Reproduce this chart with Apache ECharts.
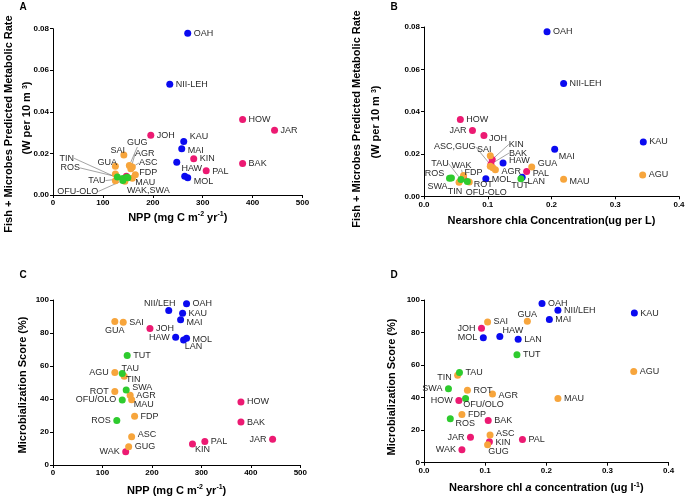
<!DOCTYPE html>
<html><head><meta charset="utf-8">
<script src="https://cdn.jsdelivr.net/npm/echarts@6/dist/echarts.min.js"></script>
<style>html,body{margin:0;padding:0;background:#fff}#c{width:689px;height:501px}</style>
</head><body><div id="c"></div>
<script>
// ---- data ----
const sites  = ['OAH','NII-LEH','KAU','MAI','HAW','MOL','LAN','JOH','HOW','JAR','BAK','KIN','PAL','WAK','GUA','SAI','AGR','ASC','GUG','FDP','MAU','AGU','ROT','TIN','TUT','TAU','SWA','OFU-OLO','ROS'];
const groups = ['b','b','b','b','b','b','b','p','p','p','p','p','p','p','o','o','o','o','o','o','o','o','o','o','g','g','g','g','g'];
const npp    = [270,234,262,258,248,270,264,196,380,444,380,282,307,147,125,142,156,159,153,165,159,125,125,144,150,140,148,140,129];
const chla   = [0.193,0.219,0.344,0.205,0.124,0.097,0.154,0.094,0.057,0.076,0.105,0.107,0.161,0.062,0.169,0.104,0.112,0.108,0.104,0.062,0.219,0.343,0.071,0.055,0.152,0.058,0.040,0.068,0.043];
const metab  = [0.0778,0.0533,0.0257,0.0222,0.0157,0.0083,0.0090,0.0287,0.0363,0.0311,0.0152,0.0174,0.0117,0.0090,0.0138,0.0192,0.0126,0.0135,0.0142,0.0098,0.0080,0.0101,0.0068,0.0066,0.0083,0.0079,0.0085,0.0070,0.0087];
const score  = [97.8,93.7,92.0,88.0,77.5,76.8,75.8,82.7,38.2,15.6,26.0,12.8,14.3,8.0,87.0,86.5,42.2,17.1,11.0,29.6,39.5,56.0,44.6,53.8,66.4,55.4,45.5,39.4,27.0];
const groupOrder = ['b','p','o','g'];
const groupColor = {b:'#0a0af0', p:'#ec1a72', o:'#f7a53c', g:'#2ecb2e'};

// ---- label placement (mode, dx, dy, leader line) ----
const layA = {OAH:['r',0,0],'NII-LEH':['r',0,0],KAU:['r',0,-5],MAI:['r',0,2],HAW:['c',15,6],MOL:['r',0,4],
  JOH:['r',0,0],HOW:['r',0,0],JAR:['r',0,0],BAK:['r',0,0],KIN:['r',0,0],PAL:['r',0,1],WAK:['c',22,14],
  GUA:['c',-8,-4],SAI:['c',-6,-5],AGR:['c',14,-15,1],ASC:['c',16,-4,1],GUG:['c',8,-23,1],FDP:['c',13,-2],MAU:['c',13,4],
  TIN:['c',-58,-23,1],TAU:['c',-26,2,1],'OFU-OLO':['c',-45,11,1],ROS:['c',-47,-9,1]};
const hideA = ['LAN','AGU','ROT','TUT','SWA'];
const textA = {WAK:'WAK,SWA'};
const layB = {OAH:['r',0,0],'NII-LEH':['r',0,0],KAU:['r',0,0],MAI:['c',12,7],HAW:['r',0,-3],MOL:['r',0,1],LAN:['c',14,4],
  JOH:['c',14,3],HOW:['r',0,0],JAR:['l',0,0],BAK:['c',27,-11,1],KIN:['c',24,-15,1],PAL:['r',0,2],WAK:['c',-2,-12,1],
  GUA:['r',0,-4],SAI:['c',-6,-6],AGR:['r',0,2],ASC:['c',-38,-21,1],FDP:['c',10,-3],MAU:['r',0,2],AGU:['r',0,0],
  ROT:['c',14,3],TIN:['c',-4,9],TUT:['c',-1,7],TAU:['c',-21,-16,1],SWA:['c',-12,8],'OFU-OLO':['c',19,11],ROS:['c',-17,-4]};
const hideB = ['GUG'];
const textB = {ASC:'ASC,GUG'};
const layC = {OAH:['r',0,0],'NII-LEH':['c',-9,-7],KAU:['r',0,0],MAI:['r',0,3],HAW:['l',0,0],MOL:['r',0,1],LAN:['c',10,7],
  JOH:['r',0,0],HOW:['r',0,0],JAR:['l',0,0],BAK:['r',0,0],KIN:['c',10,6],PAL:['r',0,0],WAK:['l',0,0],
  GUA:['c',0,9],SAI:['r',0,0],AGR:['r',0,0],ASC:['r',0,-2],GUG:['r',0,0],FDP:['r',0,0],MAU:['c',12,5],AGU:['l',0,0],
  ROT:['l',0,0],TIN:['c',9,3],TUT:['r',0,0],TAU:['c',8,-5],SWA:['r',0,-2],'OFU-OLO':['l',0,0],ROS:['l',0,0]};
const layD = {OAH:['r',0,0],'NII-LEH':['r',0,0],KAU:['r',0,0],MAI:['r',0,0],HAW:['c',13,-6],MOL:['l',0,0],LAN:['r',0,0],
  JOH:['l',0,0],HOW:['l',0,0],JAR:['l',0,0],BAK:['r',0,0],KIN:['r',0,1],PAL:['r',0,0],WAK:['l',0,0],
  GUA:['c',0,-7],SAI:['r',0,0],AGR:['r',0,1],ASC:['r',0,-1],GUG:['c',11,7],FDP:['r',0,0],MAU:['r',0,0],AGU:['r',0,0],
  ROT:['r',0,0],TIN:['l',0,2],TUT:['r',0,0],TAU:['r',0,0],SWA:['l',0,0],'OFU-OLO':['c',18,6],ROS:['c',15,5]};
const slash = {'NII-LEH':'NII/LEH','OFU-OLO':'OFU/OLO'};

const panels = [
  {x:npp, y:metab, lay:layA, hide:hideA, text:textA},
  {x:chla, y:metab, lay:layB, hide:hideB, text:textB},
  {x:npp, y:score, lay:layC, hide:[], text:slash},
  {x:chla, y:score, lay:layD, hide:[], text:slash}
];

const FONT = '"Liberation Sans", Arial, sans-serif';
const grids = [
  {left:53, top:28.7, width:249.5, height:166.3},
  {left:424, top:27, width:255, height:169.3},
  {left:53, top:300, width:247.3, height:165},
  {left:424, top:300, width:244.6, height:162.7}
];
const sup = {fontSize:7, fontWeight:'bold', fontFamily:FONT, color:'#000', verticalAlign:'top', lineHeight:13};
const nm = {fontSize:11, fontWeight:'bold', fontFamily:FONT, color:'#000', lineHeight:13};

function axisBase(extra){
  return Object.assign({
    axisLine:{show:true, onZero:false, lineStyle:{color:'#000', width:1}},
    axisTick:{show:true, inside:false, length:3, lineStyle:{color:'#000'}},
    splitLine:{show:false},
    axisLabel:{fontSize:8, fontWeight:'bold', fontFamily:FONT, color:'#000', margin:4},
    nameLocation:'middle'
  }, extra);
}
const lbl1 = {fontSize:8, fontWeight:'bold', fontFamily:FONT, color:'#000', margin:4, formatter:v=>v.toFixed(1)};
const lbl2 = {fontSize:8, fontWeight:'bold', fontFamily:FONT, color:'#000', margin:4, formatter:v=>v.toFixed(2)};

const xAxes = [
  axisBase({gridIndex:0, min:0, max:500, interval:100, name:'{n|NPP (mg C m}{s|-2}{n| yr}{s|-1}{n|)}', nameGap:16, nameTextStyle:{rich:{n:nm, s:sup}}}),
  axisBase({gridIndex:1, min:0, max:0.4, interval:0.1, name:'Nearshore chla Concentration(ug per L)', nameGap:18, nameTextStyle:nm, axisLabel:lbl1}),
  axisBase({gridIndex:2, min:0, max:500, interval:100, name:'{n|NPP (mg C m}{s|-2}{n| yr}{s|-1}{n|)}', nameGap:19, nameTextStyle:{rich:{n:nm, s:sup}}}),
  axisBase({gridIndex:3, min:0, max:0.4, interval:0.1, name:'{n|Nearshore chl }{i|a}{n| concentration (ug l}{s|-1}{n|)}', nameGap:19,
    nameTextStyle:{rich:{n:nm, s:sup, i:Object.assign({}, nm, {fontStyle:'italic'})}}, axisLabel:lbl1})
];
const yAxes = [
  axisBase({gridIndex:0, min:0, max:0.08, interval:0.02, axisLabel:lbl2}),
  axisBase({gridIndex:1, min:0, max:0.08, interval:0.02, axisLabel:lbl2}),
  axisBase({gridIndex:2, min:0, max:100, interval:20}),
  axisBase({gridIndex:3, min:0, max:100, interval:20})
];

function makeLayout(specs){
  return function(params){
    const s = specs[params.dataIndex] || ['r',0,0];
    const r = params.rect;
    const cx = r.x + r.width/2, cy = r.y + r.height/2;
    if (s[0] === 'r') return {x:cx+6+s[1], y:cy+s[2], align:'left', verticalAlign:'middle'};
    if (s[0] === 'l') return {x:cx-6+s[1], y:cy+s[2], align:'right', verticalAlign:'middle'};
    return {x:cx+s[1], y:cy+s[2], align:'center', verticalAlign:'middle'};
  };
}

const series = [];
panels.forEach((p, pi) => {
  groupOrder.forEach(g => {
    const data = [], specs = [];
    sites.forEach((s, i) => {
      if (groups[i] !== g) return;
      const spec = p.lay[s] || ['r',0,0];
      specs.push(spec);
      data.push({
        name: s,
        value: [p.x[i], p.y[i]],
        label: {show: p.hide.indexOf(s) < 0, formatter: p.text[s] || s},
        labelLine: {show: !!spec[3]}
      });
    });
    series.push({
      type:'scatter', xAxisIndex:pi, yAxisIndex:pi, symbolSize:7,
      itemStyle:{color:groupColor[g], opacity:1},
      label:{show:true, position:'right', fontSize:9, fontFamily:FONT, color:'#2a2a2a'},
      labelLine:{show:false, lineStyle:{color:'#666', width:0.6}},
      labelLayout: makeLayout(specs),
      emphasis:{disabled:true},
      data
    });
  });
});

const titleStyle = {fontSize:11, fontWeight:'bold', fontFamily:FONT, fill:'#000', align:'center', verticalAlign:'middle'};
function ytext(x, y, text, rich){
  return {type:'text', x, y, rotation:Math.PI/2, style:Object.assign({}, titleStyle, {text, rich})};
}
const richY = {n:{fontSize:11, fontWeight:'bold', fontFamily:FONT, fill:'#000'}, s:{fontSize:7, fontWeight:'bold', fontFamily:FONT, fill:'#000', verticalAlign:'top'}};

const chart = echarts.init(document.getElementById('c'), null, {renderer:'canvas'});
chart.setOption({
  animation:false,
  backgroundColor:'#fff',
  grid: grids,
  xAxis: xAxes,
  yAxis: yAxes,
  series,
  graphic:[
    {type:'text', x:23, y:7, style:Object.assign({}, titleStyle, {text:'A', fontSize:10})},
    {type:'text', x:394, y:7, style:Object.assign({}, titleStyle, {text:'B', fontSize:10})},
    {type:'text', x:23, y:275, style:Object.assign({}, titleStyle, {text:'C', fontSize:10})},
    {type:'text', x:394, y:275, style:Object.assign({}, titleStyle, {text:'D', fontSize:10})},
    ytext(9, 124, 'Fish + Microbes Predicted Metabolic Rate'),
    ytext(27, 118, '{n|(W per 10 m }{s|3}{n|)}', richY),
    ytext(357, 119, 'Fish + Microbes Predicted Metabolic Rate'),
    ytext(376, 122, '{n|(W per 10 m }{s|3}{n|)}', richY),
    ytext(23, 385, 'Microbialization Score (%)'),
    ytext(392, 387, 'Microbialization Score (%)')
  ]
});
</script></body></html>
